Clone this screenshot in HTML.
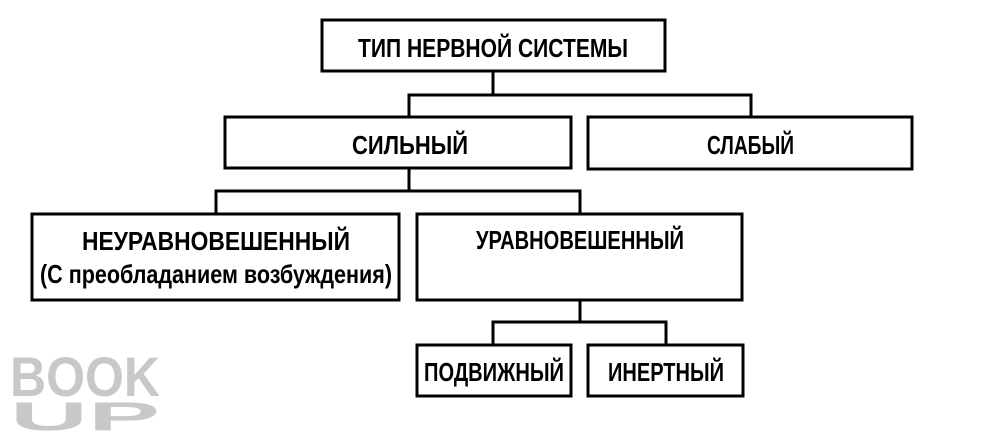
<!DOCTYPE html>
<html><head><meta charset="utf-8"><style>
html,body{margin:0;padding:0;background:#fff;}
svg{display:block;}
text{font-family:"Liberation Sans",sans-serif;font-weight:bold;fill:#000;}
</style></head><body>
<svg width="990" height="436" viewBox="0 0 990 436" xmlns="http://www.w3.org/2000/svg">
<g fill="none" stroke="#000" stroke-width="3">
<rect x="322" y="20" width="343" height="51"/>
<rect x="225" y="117" width="346" height="51"/>
<rect x="588" y="117" width="324" height="52"/>
<rect x="32" y="214" width="367" height="86"/>
<rect x="417" y="214" width="325" height="86"/>
<rect x="417" y="345" width="154" height="51"/>
<rect x="588" y="345" width="155" height="51"/>
<polyline points="493,71 493,95"/>
<polyline points="409,117 409,95 751,95 751,117"/>
<polyline points="409,168 409,191"/>
<polyline points="216,214 216,191 580,191 580,214"/>
<polyline points="580,300 580,322"/>
<polyline points="493,345 493,322 666,322 666,345"/>
</g>
<g font-size="26">
<text x="358" y="57" textLength="270" lengthAdjust="spacingAndGlyphs">ТИП НЕРВНОЙ СИСТЕМЫ</text>
<text x="352" y="154" textLength="116" lengthAdjust="spacingAndGlyphs">СИЛЬНЫЙ</text>
<text x="707" y="154" textLength="87" lengthAdjust="spacingAndGlyphs">СЛАБЫЙ</text>
<text x="82" y="250" textLength="268" lengthAdjust="spacingAndGlyphs">НЕУРАВНОВЕШЕННЫЙ</text>
<text x="40" y="283" textLength="352" lengthAdjust="spacingAndGlyphs">(С преобладанием возбуждения)</text>
<text x="476" y="249" textLength="208" lengthAdjust="spacingAndGlyphs">УРАВНОВЕШЕННЫЙ</text>
<text x="424" y="381" textLength="140" lengthAdjust="spacingAndGlyphs">ПОДВИЖНЫЙ</text>
<text x="608" y="381" textLength="116" lengthAdjust="spacingAndGlyphs">ИНЕРТНЫЙ</text>
</g>
<text x="10" y="396" font-size="56" textLength="150" lengthAdjust="spacingAndGlyphs" style="fill:#c8c8c8">BOOK</text>
<text x="10" y="430" font-size="40" textLength="150" lengthAdjust="spacingAndGlyphs" style="fill:#c8c8c8">UP</text>
</svg>
</body></html>
